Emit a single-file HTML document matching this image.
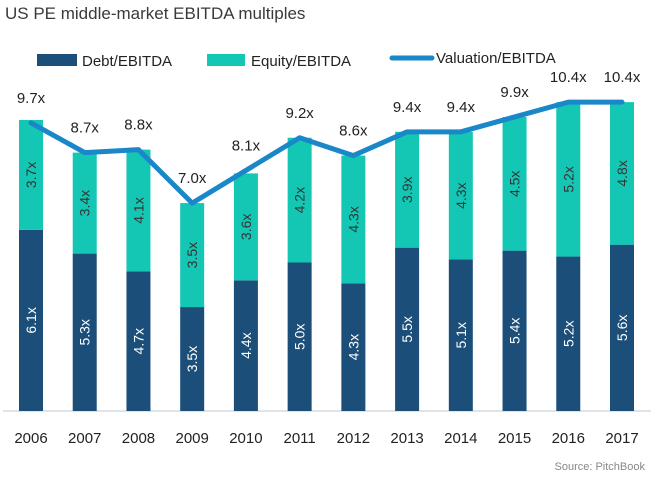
<!DOCTYPE html>
<html><head><meta charset="utf-8"><style>
body{margin:0;background:#fff;font-family:"Liberation Sans",sans-serif;}
svg text{font-family:"Liberation Sans",sans-serif;}
</style></head><body>
<svg id="chart" width="651" height="473" xmlns="http://www.w3.org/2000/svg">
<text x="5" y="19" font-size="17" fill="#3a3a3a">US PE middle-market EBITDA multiples</text>
<g>
<rect x="37" y="54" width="40" height="12" fill="#1b4f7a"/>
<text x="82" y="66" font-size="15" fill="#222">Debt/EBITDA</text>
<rect x="207" y="54" width="38" height="12" fill="#14c7b4"/>
<text x="251" y="66" font-size="15" fill="#222">Equity/EBITDA</text>
<line x1="392" y1="58" x2="432" y2="58" stroke="#1a87c9" stroke-width="5" stroke-linecap="round"/>
<text x="436" y="63" font-size="15" fill="#222">Valuation/EBITDA</text>
</g>
<line x1="3" y1="411" x2="651" y2="411" stroke="#d3dbe3" stroke-width="1.5"/>
<g id="marks"></g>
<text x="645" y="470" font-size="11" fill="#888" text-anchor="end">Source: PitchBook</text>
</svg>
<script>
const years=["2006","2007","2008","2009","2010","2011","2012","2013","2014","2015","2016","2017"];
const debt=[6.1,5.3,4.7,3.5,4.4,5.0,4.3,5.5,5.1,5.4,5.2,5.6];
const equity=[3.7,3.4,4.1,3.5,3.6,4.2,4.3,3.9,4.3,4.5,5.2,4.8];
const valuation=[9.7,8.7,8.8,7.0,8.1,9.2,8.6,9.4,9.4,9.9,10.4,10.4];
const NS="http://www.w3.org/2000/svg";
const g=document.getElementById('marks');
const base=411,ppu=29.7,x0=31,step=(622-31)/11,bw=24;
const X=i=>x0+i*step, Y=v=>base-v*ppu;
function mk(t,a){const e=document.createElementNS(NS,t);for(const k in a)e.setAttribute(k,a[k]);g.appendChild(e);return e;}
years.forEach((yr,i)=>{
  const x=X(i);
  const d=mk('rect',{x:x-bw/2,y:Y(debt[i]),width:bw,height:base-Y(debt[i]),fill:'#1b4f7a'});
  
  
  const e=mk('rect',{x:x-bw/2,y:Y(debt[i]+equity[i]),width:bw,height:equity[i]*ppu,fill:'#14c7b4'});
  
  
  const cy1=(base+Y(debt[i]))/2;
  const t1=mk('text',{x:x+5,y:cy1,'font-size':14,fill:'#fff','text-anchor':'middle',transform:`rotate(-90 ${x+5} ${cy1})`});
  t1.textContent=debt[i].toFixed(1)+'x';
  
  
  const cy2=(Y(debt[i])+Y(debt[i]+equity[i]))/2;
  const t2=mk('text',{x:x+5,y:cy2,'font-size':14,fill:'#333','text-anchor':'middle',transform:`rotate(-90 ${x+5} ${cy2})`});
  t2.textContent=equity[i].toFixed(1)+'x';
  
  
  const ty=mk('text',{x:x,y:443,'font-size':15,fill:'#222','text-anchor':'middle'});
  ty.textContent=yr;
  
  
});
const pl=mk('polyline',{points:valuation.map((v,i)=>X(i)+','+Y(v)).join(' '),fill:'none',stroke:'#1a87c9','stroke-width':5,'stroke-linejoin':'round','stroke-linecap':'round'});


valuation.forEach((v,i)=>{
  const t=mk('text',{x:X(i),y:Y(v)-20,'font-size':15,fill:'#222','text-anchor':'middle'});
  t.textContent=v.toFixed(1)+'x';
  
  
});
</script>
</body></html>
